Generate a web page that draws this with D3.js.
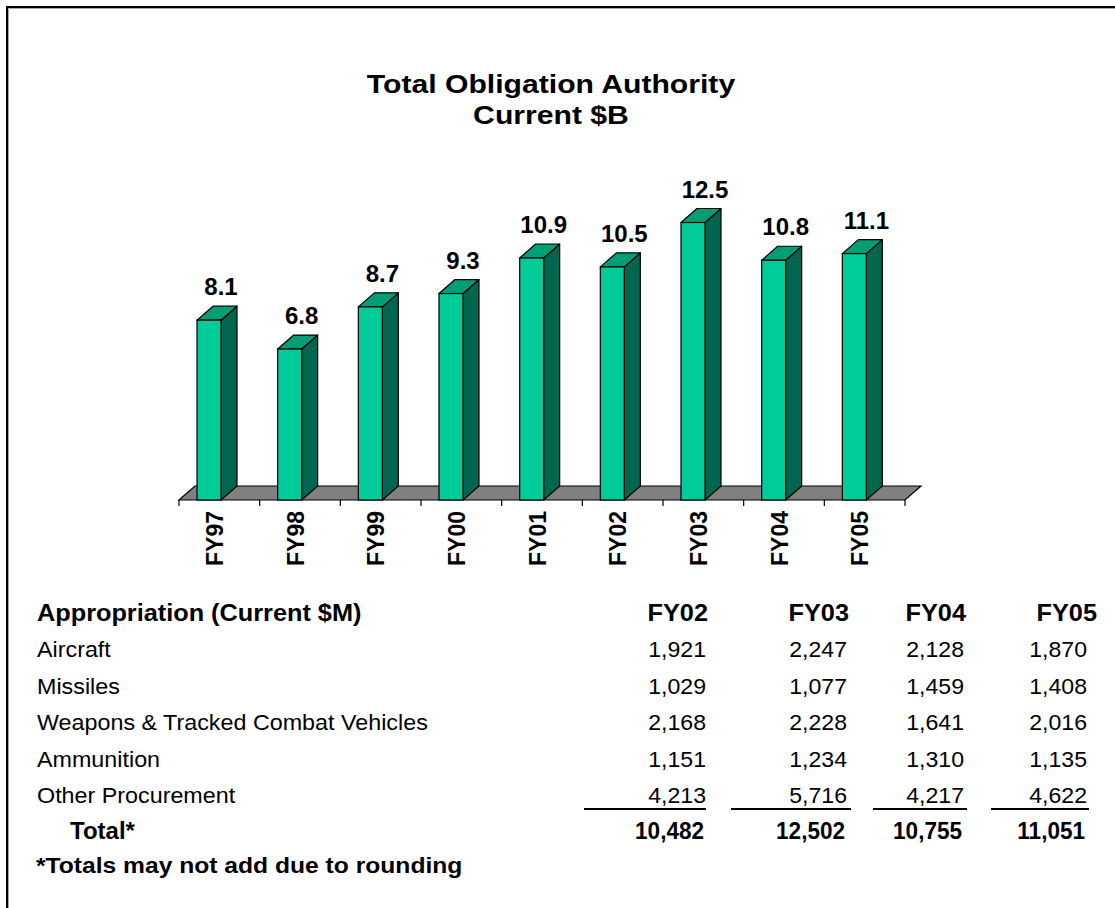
<!DOCTYPE html>
<html>
<head>
<meta charset="utf-8">
<script src="https://cdn.jsdelivr.net/npm/d3@7"></script>
<style>
  html, body { margin: 0; padding: 0; background: #fff; }
  svg { display: block; font-family: "Liberation Sans", Arial, sans-serif; }
</style>
</head>
<body>
<svg id="chart" width="1115" height="908"></svg>
<script>
// ---- data ----
const categories = ["FY97", "FY98", "FY99", "FY00", "FY01", "FY02", "FY03", "FY04", "FY05"];
const toaValues = [8.1, 6.8, 8.7, 9.3, 10.9, 10.5, 12.5, 10.8, 11.1];

const tableYears = ["FY02", "FY03", "FY04", "FY05"];
const appropriations = ["Aircraft", "Missiles", "Weapons & Tracked Combat Vehicles", "Ammunition", "Other Procurement"];
const aircraft   = [1921, 2247, 2128, 1870];
const missiles   = [1029, 1077, 1459, 1408];
const weapons    = [2168, 2228, 1641, 2016];
const ammunition = [1151, 1234, 1310, 1135];
const otherProc  = [4213, 5716, 4217, 4622];
const totals     = [10482, 12502, 10755, 11051];

const titleLines = ["Total Obligation Authority", "Current $B"];
const tableHeader = "Appropriation (Current $M)";
const totalLabel = "Total*";
const footnote = "*Totals may not add due to rounding";

// ---- setup ----
const svg = d3.select("#chart");
const fmt = d3.format(",");

// frame border
svg.append("path").attr("d", "M7,908 L7,7 L1115,7").attr("fill", "none").attr("stroke", "#000").attr("stroke-width", 2);
svg.append("path").attr("d", "M8.5,908 L8.5,8.5 L1115,8.5").attr("fill", "none").attr("stroke", "#aaa").attr("stroke-width", 1);

// title
svg.append("g").selectAll("text").data(titleLines).join("text")
  .attr("transform", (d, i) => `translate(551,${93 + i * 31}) scale(1.16,1)`)
  .attr("text-anchor", "middle")
  .attr("font-size", 26).attr("font-weight", "bold").attr("fill", "#000")
  .text(d => d);

// ---- 3D bar chart ----
const x = d3.scaleBand().domain(categories).range([179, 905]).padding(0);
const y = d3.scaleLinear().domain([0, 14]).range([500, 500 - 22.2 * 14]);
const dx = 16, dy = 14;
const barOff = 18, barW = 24;

const colFront = "#00CC99", colSide = "#006650", colTop = "#009E77";

const y0 = y(0);
const xL = x.range()[0], xR = x.range()[1];

// floor
svg.append("path")
  .attr("d", `M${xL},${y0} L${xR},${y0} L${xR + dx},${y0 - dy} L${xL + dx},${y0 - dy} Z`)
  .attr("fill", "#808080").attr("stroke", "#000").attr("stroke-width", 1.2);

// ticks at band boundaries
const tickXs = categories.map(c => x(c)).concat([xR]);
svg.append("g").selectAll("line").data(tickXs).join("line")
  .attr("x1", d => d).attr("x2", d => d)
  .attr("y1", y0).attr("y2", y0 + 6)
  .attr("stroke", "#000").attr("stroke-width", 1.2);

// bars
const data = categories.map((c, i) => ({ c, v: toaValues[i] }));
const bars = svg.append("g").selectAll("g").data(data).join("g");

bars.append("path") // side
  .attr("d", d => {
    const x1 = x(d.c) + barOff + barW, yt = y(d.v);
    return `M${x1},${y0} L${x1 + dx},${y0 - dy} L${x1 + dx},${yt - dy} L${x1},${yt} Z`;
  })
  .attr("fill", colSide).attr("stroke", "#000").attr("stroke-width", 1.2).attr("stroke-linejoin", "round");

bars.append("path") // top
  .attr("d", d => {
    const x0 = x(d.c) + barOff, yt = y(d.v);
    return `M${x0},${yt} L${x0 + barW},${yt} L${x0 + barW + dx},${yt - dy} L${x0 + dx},${yt - dy} Z`;
  })
  .attr("fill", colTop).attr("stroke", "#000").attr("stroke-width", 1.2).attr("stroke-linejoin", "round");

bars.append("rect") // front
  .attr("x", d => x(d.c) + barOff)
  .attr("y", d => y(d.v))
  .attr("width", barW)
  .attr("height", d => y0 - y(d.v))
  .attr("fill", colFront).attr("stroke", "#000").attr("stroke-width", 1.2);

// value labels
bars.append("text")
  .attr("x", d => x(d.c) + barOff + barW / 2 + 12)
  .attr("y", d => y(d.v) - 25)
  .attr("text-anchor", "middle")
  .attr("font-size", 24).attr("font-weight", "bold").attr("fill", "#000")
  .text(d => d.v.toFixed(1));

// category labels (rotated)
svg.append("g").selectAll("text").data(categories).join("text")
  .attr("transform", d => `translate(${x(d) + x.bandwidth() / 2 + 3.5},511) rotate(-90)`)
  .attr("text-anchor", "end")
  .attr("font-size", 23).attr("font-weight", "bold").attr("fill", "#000")
  .text(d => d);

// ---- table ----
const rowY0 = 621, rowStep = 36.4;
const headerRight = [708, 849, 966, 1097];
const colRight = [706, 847, 964, 1087];
const lineSpans = [[584, 706], [731, 851], [873, 967], [991, 1089]];
const rowsData = [aircraft, missiles, weapons, ammunition, otherProc];

const table = svg.append("g");

table.append("text")
  .attr("transform", `translate(37,${rowY0}) scale(1.1,1)`)
  .attr("font-size", 23).attr("font-weight", "bold").text(tableHeader);

table.append("g").selectAll("text").data(tableYears).join("text")
  .attr("transform", (d, i) => `translate(${headerRight[i]},${rowY0}) scale(1.1,1)`)
  .attr("text-anchor", "end")
  .attr("font-size", 23).attr("font-weight", "bold").text(d => d);

appropriations.forEach((name, r) => {
  const yy = rowY0 + rowStep * (r + 1);
  table.append("text")
    .attr("transform", `translate(37,${yy}) scale(1.06,1)`)
    .attr("font-size", 22).text(name);
  table.append("g").selectAll("text").data(rowsData[r]).join("text")
    .attr("transform", (d, i) => `translate(${colRight[i]},${yy}) scale(1.05,1)`)
    .attr("text-anchor", "end")
    .attr("font-size", 22).text(d => fmt(d));
});

// underlines
const lineY = rowY0 + rowStep * 5 + 6;
table.append("g").selectAll("line").data(lineSpans).join("line")
  .attr("x1", d => d[0]).attr("x2", d => d[1])
  .attr("y1", lineY).attr("y2", lineY)
  .attr("stroke", "#000").attr("stroke-width", 2);

// totals
const totY = rowY0 + rowStep * 6;
table.append("text")
  .attr("transform", `translate(70,${totY})`)
  .attr("font-size", 24).attr("font-weight", "bold").text(totalLabel);
table.append("g").selectAll("text").data(totals).join("text")
  .attr("transform", (d, i) => `translate(${colRight[i] - 2},${totY}) scale(0.98,1)`)
  .attr("text-anchor", "end")
  .attr("font-size", 23).attr("font-weight", "bold").text(d => fmt(d));

// footnote
table.append("text")
  .attr("transform", `translate(36,873) scale(1.12,1)`)
  .attr("font-size", 22).attr("font-weight", "bold").text(footnote);
</script>
</body>
</html>
